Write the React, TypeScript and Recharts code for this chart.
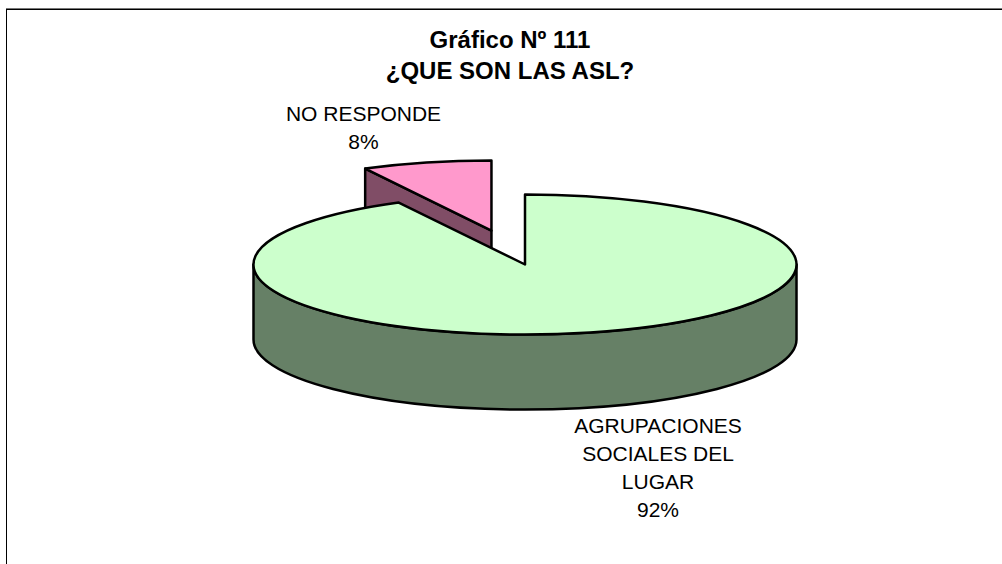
import React from "react";
import { PieChart, Pie } from "recharts";

const SLICE_NAMES = ["NO RESPONDE", "AGRUPACIONES SOCIALES DEL LUGAR"];
const SLICE_VALUES = [7.7, 92.3];
const TOP_COLORS = ["#ff99cc", "#ccffcc"];
const WALL_COLORS = ["#804d66", "#668066"];
const LABEL_LINES = [["NO RESPONDE"], ["AGRUPACIONES", "SOCIALES DEL", "LUGAR"]];
const LABEL_POS = [
  { x: 363.5, y: 121 },
  { x: 658, y: 433 },
];
const TITLE_LINES = ["Gráfico Nº 111", "¿QUE SON LAS ASL?"];

const WIDTH = 1002;
const HEIGHT = 564;
const FONT = '"Liberation Sans", Arial, sans-serif';
const CX = 525;
const CY = 264.5;
const RADIUS = 271.5;
const TILT = 70 / 271.5;
const DEPTH = 75;
const EXPLODE_X = 140;
const EXPLODE_Y = 35;
const RAD = Math.PI / 180;

const chartData = SLICE_NAMES.map((name, i) => ({
  name,
  value: SLICE_VALUES[i],
  idx: i,
}));

const firstSweep = (SLICE_VALUES[0] / (SLICE_VALUES[0] + SLICE_VALUES[1])) * 360;

// recharts only knows circles, so the angles it works out get squashed into a tilted disc
const Slice3D = (props: any) => {
  const { cx, cy, outerRadius, startAngle, endAngle, payload } = props;
  const idx = payload.idx;
  const rx = outerRadius;
  const ry = outerRadius * TILT;
  const mid = (startAngle + endAngle) / 2;
  const ox = idx === 0 ? cx + EXPLODE_X * Math.cos(mid * RAD) : cx;
  const oy = idx === 0 ? cy - EXPLODE_Y * Math.sin(mid * RAD) : cy;
  const pt = (a: number) => [ox + rx * Math.cos(a * RAD), oy - ry * Math.sin(a * RAD)];
  const [sx, sy] = pt(startAngle);
  const [ex, ey] = pt(endAngle);
  const large = Math.abs(startAngle - endAngle) > 180 ? 1 : 0;
  const top = `M${ox},${oy} L${sx},${sy} A${rx},${ry} 0 ${large} 1 ${ex},${ey} Z`;
  const line = { stroke: "#000", strokeWidth: 2.5, strokeLinejoin: "round" as const };

  if (idx === 0) {
    const cut = `M${ox},${oy} L${sx},${sy} L${sx},${sy + DEPTH} L${ox},${oy + DEPTH} Z`;
    return (
      <g>
        <path d={cut} fill={WALL_COLORS[idx]} {...line} />
        <path d={top} fill={TOP_COLORS[idx]} {...line} />
      </g>
    );
  }
  const wall = `M${ox + rx},${oy} A${rx},${ry} 0 0 1 ${ox - rx},${oy} L${ox - rx},${oy + DEPTH} A${rx},${ry} 0 0 0 ${ox + rx},${oy + DEPTH} Z`;
  return (
    <g>
      <path d={wall} fill={WALL_COLORS[idx]} {...line} />
      <path d={top} fill={TOP_COLORS[idx]} {...line} />
    </g>
  );
};

const renderLabel = (props: any) => {
  const idx = props.payload.idx;
  const lines = [...LABEL_LINES[idx], `${Math.round(props.percent * 100)}%`];
  const pos = LABEL_POS[idx];
  return (
    <text x={pos.x} y={pos.y} textAnchor="middle" fontFamily={FONT} fontSize={21} fill="#000">
      {lines.map((l, i) => (
        <tspan key={l} x={pos.x} dy={i === 0 ? 0 : 28}>
          {l}
        </tspan>
      ))}
    </text>
  );
};

export default function App() {
  return (
    <div style={{ position: "absolute", left: 0, top: 0, width: WIDTH, height: HEIGHT, background: "#fff" }}>
      <PieChart width={WIDTH} height={HEIGHT} margin={{ top: 0, right: 0, bottom: 0, left: 0 }}>
        <line x1={6} y1={8.5} x2={WIDTH} y2={8.5} stroke="#777" strokeWidth={1} />
        <line x1={6} y1={9.5} x2={WIDTH} y2={9.5} stroke="#000" strokeWidth={1} />
        <line x1={6.5} y1={9} x2={6.5} y2={HEIGHT} stroke="#000" strokeWidth={1} />
        <Pie
          data={chartData}
          dataKey="value"
          nameKey="name"
          cx={CX}
          cy={CY}
          outerRadius={RADIUS}
          startAngle={90 + firstSweep}
          endAngle={90 + firstSweep - 360}
          paddingAngle={0}
          shape={Slice3D}
          label={renderLabel}
          labelLine={false}
          isAnimationActive={false}
        />
        <text textAnchor="middle" fontFamily={FONT} fontSize={24} fontWeight="bold" fill="#000">
          {TITLE_LINES.map((l, i) => (
            <tspan key={l} x={510} y={48 + i * 31}>
              {l}
            </tspan>
          ))}
        </text>
      </PieChart>
    </div>
  );
}
